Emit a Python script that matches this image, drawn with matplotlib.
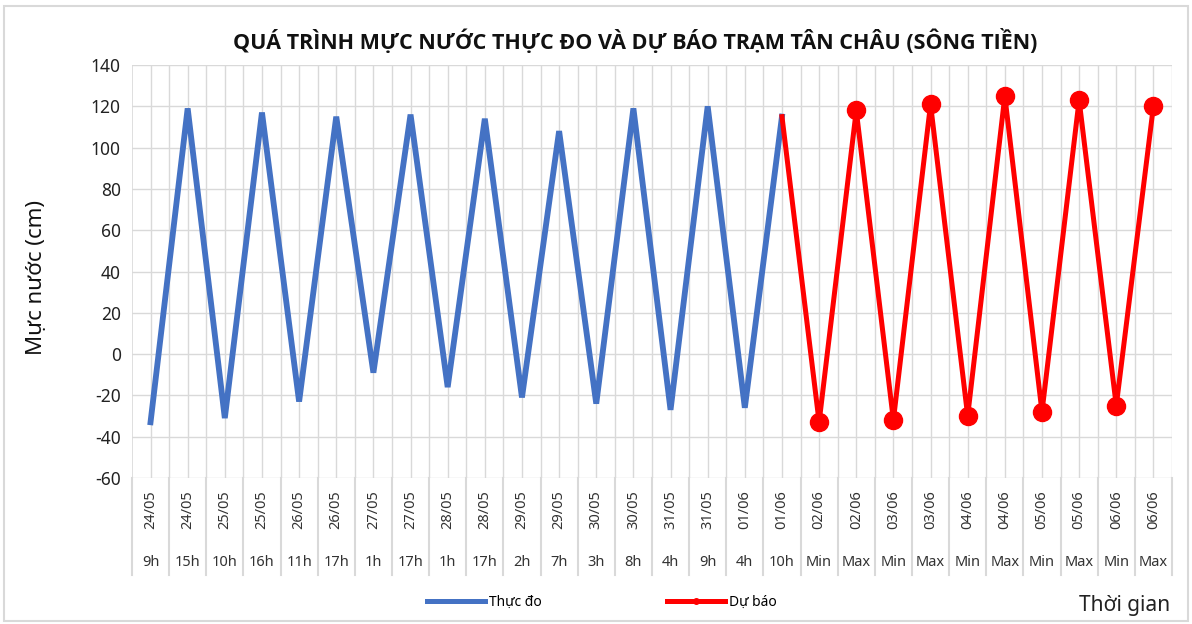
import matplotlib
matplotlib.use("Agg")
import matplotlib.pyplot as plt
from matplotlib.lines import Line2D
import matplotlib.transforms as mtransforms

plt.rcParams['font.family'] = ['Noto Sans', 'DejaVu Sans']
plt.rcParams['axes.unicode_minus'] = False

dates = ["24/05", "24/05", "25/05", "25/05", "26/05", "26/05", "27/05", "27/05",
         "28/05", "28/05", "29/05", "29/05", "30/05", "30/05", "31/05", "31/05",
         "01/06", "01/06", "02/06", "02/06", "03/06", "03/06", "04/06", "04/06",
         "05/06", "05/06", "06/06", "06/06"]
hours = ["9h", "15h", "10h", "16h", "11h", "17h", "1h", "17h", "1h", "17h", "2h", "7h",
         "3h", "8h", "4h", "9h", "4h", "10h", "Min", "Max", "Min", "Max", "Min", "Max",
         "Min", "Max", "Min", "Max"]
observed = [-33, 119, -31, 117, -23, 115, -9, 116, -16, 114, -21, 108, -24, 119, -27, 120, -26, 115]
forecast = [115, -33, 118, -32, 121, -30, 125, -28, 123, -25, 120]

n = len(dates)
x_obs = list(range(len(observed)))
x_fc = list(range(len(observed) - 1, len(observed) - 1 + len(forecast)))

fig = plt.figure(figsize=(11.92, 6.24), dpi=100)
ax = fig.add_axes([0.1107, 0.234, 0.8725, 0.6618])

blue = "#4472C4"
red = "#FF0000"
grid_c = "#D9D9D9"

# grid
for v in range(-60, 141, 20):
    ax.axhline(v, color=grid_c, lw=1.0, zorder=0)
for i in range(n):
    ax.axvline(i, color=grid_c, lw=1.0, zorder=0)
    ax.axvline(i + 0.5, color=grid_c, lw=1.0, zorder=0)

ax.plot(x_obs, observed, color=blue, lw=4.2, solid_joinstyle='miter', zorder=3)
ax.plot(x_fc, forecast, color=red, lw=3.6, marker='o', markersize=13,
        markevery=list(range(1, len(forecast))), zorder=4)

ax.set_xlim(-0.5, n - 0.5)
ax.set_ylim(-60, 140)
ax.set_yticks(range(-60, 141, 20))
ax.tick_params(axis='y', length=0, labelsize=12.5, pad=8, colors='#222222')
ax.set_xticks([])
for s in ax.spines.values():
    s.set_visible(False)
ax.axvline(-0.5, color=grid_c, lw=1.2, zorder=0)

# multi-level category labels
trans = mtransforms.blended_transform_factory(ax.transData, ax.transAxes)
for i in range(n):
    ax.text(i, -0.03, dates[i], transform=trans, rotation=90, ha='center', va='top',
            fontsize=10.5, color='#333333')
    ax.text(i, -0.204, hours[i], transform=trans, ha='center', va='center',
            fontsize=10.5, color='#333333')
for i in range(n + 1):
    ax.plot([i - 0.5, i - 0.5], [0, -0.235], transform=trans, color=grid_c, lw=1.5,
            clip_on=False)

fig.text(0.533, 0.933, "QUÁ TRÌNH MỰC NƯỚC THỰC ĐO VÀ DỰ BÁO TRẠM TÂN CHÂU (SÔNG TIỀN)",
         ha='center', va='center', fontsize=15.5, fontweight='bold', color='#111111',
         family=['Open Sans', 'DejaVu Sans'])
fig.text(0.031, 0.555, "Mực nước (cm)", rotation=90, ha='center', va='center',
         fontsize=16, color='#111111')
fig.text(0.982, 0.029, "Thời gian", ha='right', va='center', fontsize=15, color='#222222')

handles = [Line2D([0], [0], color=blue, lw=3.6),
           Line2D([0], [0], color=red, lw=3.6, marker='o', markersize=4)]
fig.legend(handles, ["Thực đo", "Dự báo"], loc='center', bbox_to_anchor=(0.505, 0.035),
           ncol=2, frameon=False, fontsize=10, columnspacing=9, handlelength=4.2,
           handletextpad=0.3)

# outer border
fig.patches.append(plt.Rectangle((0.003, 0.005), 0.994, 0.985, transform=fig.transFigure,
                                 fill=False, edgecolor='#D9D9D9', lw=1.5))

fig.savefig("out.png", dpi=100, facecolor='white')
